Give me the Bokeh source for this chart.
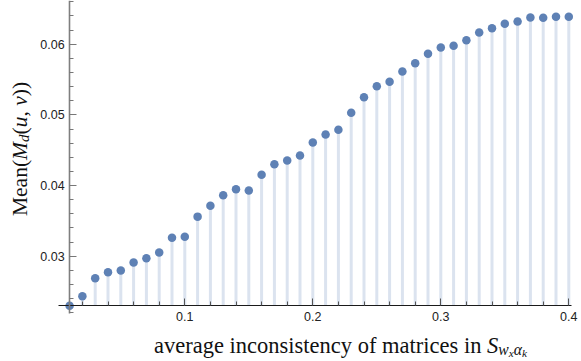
import math
from bokeh.plotting import figure
from bokeh.models import LinearAxis, FixedTicker, Label, Range1d, ColumnDataSource
from bokeh.embed import file_html
from bokeh.resources import INLINE

# ---------------- data ----------------
x_vals = [0.01, 0.02, 0.03, 0.04, 0.05, 0.06, 0.07, 0.08, 0.09, 0.10,
          0.11, 0.12, 0.13, 0.14, 0.15, 0.16, 0.17, 0.18, 0.19, 0.20,
          0.21, 0.22, 0.23, 0.24, 0.25, 0.26, 0.27, 0.28, 0.29, 0.30,
          0.31, 0.32, 0.33, 0.34, 0.35, 0.36, 0.37, 0.38, 0.39, 0.40]
y_vals = [0.02298, 0.02434, 0.02689, 0.02774, 0.02798, 0.02911, 0.02972, 0.03052, 0.03260, 0.03275,
          0.03560, 0.03713, 0.03863, 0.03948, 0.03930, 0.04154, 0.04302, 0.04354, 0.04425, 0.04609,
          0.04722, 0.04789, 0.05029, 0.05250, 0.05406, 0.05468, 0.05614, 0.05731, 0.05864, 0.05953,
          0.05977, 0.06057, 0.06166, 0.06226, 0.06289, 0.06321, 0.06378, 0.06374, 0.06388, 0.06388]
x_major_ticks = [0.1, 0.2, 0.3, 0.4]
x_minor_ticks = [0.02, 0.04, 0.06, 0.08, 0.12, 0.14, 0.16, 0.18, 0.22, 0.24,
                 0.26, 0.28, 0.32, 0.34, 0.36, 0.38]
y_major_ticks = [0.03, 0.04, 0.05, 0.06]
y_minor_ticks = [0.022, 0.024, 0.026, 0.028, 0.032, 0.034, 0.036, 0.038,
                 0.042, 0.044, 0.046, 0.048, 0.052, 0.054, 0.056, 0.058,
                 0.062, 0.064, 0.066]
x_label_parts = [("average inconsistency of matrices in ", False, 1.0, 0),
                 ("S", True, 1.0, 0), ("w", True, 0.7, 4), ("x", True, 0.5, 7),
                 ("\u03b1", True, 0.7, 4), ("k", True, 0.5, 7)]
y_label_parts = [("Mean(", False, 1.0, 0), ("M", True, 1.0, 0), ("d", True, 0.7, 4),
                 ("(", False, 1.0, 0), ("u", True, 1.0, 0), (", ", False, 1.0, 0),
                 ("v", True, 1.0, 0), ("))", False, 1.0, 0)]

# ---------------- geometry (screen px <-> data) ----------------
W, H = 581, 361
PX_X0, PX_PER_X = 56.3, 1280.0          # screen x of data x=0, px per unit
PY_REF, Y_REF, PX_PER_Y = 43.7, 0.06, 7066.7

def dx(px):
    return (px - PX_X0) / PX_PER_X

def dy(py):
    return Y_REF - (py - PY_REF) / PX_PER_Y

p = figure(width=W, height=H, x_range=Range1d(dx(0), dx(W)), y_range=Range1d(dy(H), dy(0)),
           output_backend="svg", toolbar_location=None,
           x_axis_location=None, y_axis_location=None,
           min_border_left=0, min_border_right=0, min_border_top=0, min_border_bottom=0)
p.outline_line_color = None
p.grid.visible = False
p.background_fill_color = "white"
p.border_fill_color = "white"

base = y_vals[0]
origin_x = x_vals[0]

src = ColumnDataSource(dict(x=x_vals, y=y_vals, b=[base] * len(x_vals)))
p.segment(x0="x", y0="b", x1="x", y1="y", source=src, line_width=3, line_color="#dbe3ef")
p.scatter(x="x", y="y", source=src, size=8.5, fill_color="#5e81b5", line_color=None)

tick_font = "Liberation Sans"

xaxis = LinearAxis(fixed_location=base, bounds=(dx(58.3), dx(570.5)))
xaxis.ticker = FixedTicker(ticks=x_major_ticks, minor_ticks=x_minor_ticks)
xaxis.axis_line_color = "#1a1a1a"
xaxis.axis_line_width = 1
xaxis.major_tick_in = 7
xaxis.major_tick_out = 0
xaxis.minor_tick_in = 4
xaxis.minor_tick_out = 0
xaxis.major_tick_line_color = "#555555"
xaxis.minor_tick_line_color = "#555555"
xaxis.major_label_standoff = 6
xaxis.major_label_text_font = tick_font
xaxis.major_label_text_font_size = "12.5px"
xaxis.major_label_text_color = "#222222"
p.add_layout(xaxis, "below")

yaxis = LinearAxis(fixed_location=origin_x, bounds=(dy(312.7), dy(0)))
yaxis.ticker = FixedTicker(ticks=y_major_ticks, minor_ticks=y_minor_ticks)
yaxis.axis_line_color = "#7f7f7f"
yaxis.axis_line_width = 1.6
yaxis.major_tick_in = 7
yaxis.major_tick_out = 0
yaxis.minor_tick_in = 4
yaxis.minor_tick_out = 0
yaxis.major_tick_line_color = "#777777"
yaxis.minor_tick_line_color = "#777777"
yaxis.major_label_standoff = 5
yaxis.major_label_text_font = tick_font
yaxis.major_label_text_font_size = "12.5px"
yaxis.major_label_text_color = "#222222"
p.add_layout(yaxis, "left")

# ---------------- axis titles as text pieces ----------------
ROMAN = {'a': 444, 'b': 500, 'c': 444, 'd': 500, 'e': 444, 'f': 333, 'g': 500, 'h': 500,
         'i': 278, 'j': 278, 'k': 500, 'l': 278, 'm': 778, 'n': 500, 'o': 500, 'p': 500,
         'q': 500, 'r': 333, 's': 389, 't': 278, 'u': 500, 'v': 500, 'w': 722, 'x': 500,
         'y': 500, 'z': 444, ' ': 250, '(': 333, ')': 333, ',': 250, 'M': 889, 'S': 556}
ITALIC = {'M': 833, 'd': 500, 'u': 500, 'v': 444, 'w': 667, 'x': 444, 'k': 444,
          'S': 500, '\u03b1': 520}

SERIF = "Liberation Serif"

def text_width(t, italic, size):
    tab = ITALIC if italic else ROMAN
    return sum(tab.get(c, ROMAN.get(c, 500)) for c in t) / 1000.0 * size

def add_parts(parts, fs, start_px, base_px, vertical):
    pos = start_px
    for t, it, f, shift in parts:
        size = fs * f
        if vertical:
            lx = dx(base_px + shift)
            ly = dy(pos)
            ang = math.pi / 2
        else:
            lx = dx(pos)
            ly = dy(base_px + shift)
            ang = 0
        p.add_layout(Label(x=lx, y=ly, text=t, angle=ang,
                           text_font=SERIF, text_font_size=f"{size:.1f}px",
                           text_font_style="italic" if it else "normal",
                           text_color="#111111", text_align="left",
                           text_baseline="alphabetic"))
        w = text_width(t, it, size)
        pos = pos - w if vertical else pos + w

FSX, FSY = 22.5, 21.5
xw = sum(text_width(t, it, FSX * f) for t, it, f, s in x_label_parts)
add_parts(x_label_parts, FSX, 340 - xw / 2, 345, False)
yw = sum(text_width(t, it, FSY * f) for t, it, f, s in y_label_parts)
add_parts(y_label_parts, FSY, 148.5 + yw / 2, 19, True)

open("out.html", "w").write(file_html(p, INLINE))
